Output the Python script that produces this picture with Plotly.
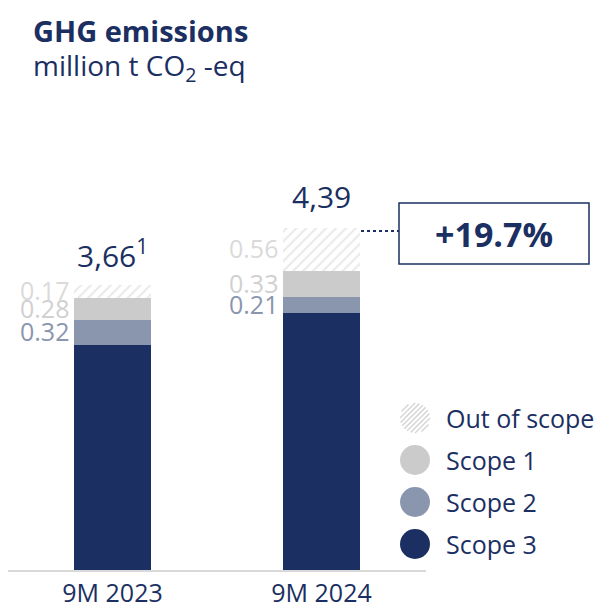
import plotly.graph_objects as go

categories = ["9M 2023", "9M 2024"]
scope3 = [2.89, 3.29]
scope2 = [0.32, 0.21]
scope1 = [0.28, 0.33]
out_of_scope = [0.17, 0.56]
totals = [3.66, 4.39]
total_labels = ["3,66<sup>1</sup>", "4,39"]
change_label = "+19.7%"
legend_names = ["Out of scope", "Scope 1", "Scope 2", "Scope 3"]

NAVY = "#1b2f62"
S2 = "#8a96ae"
S1 = "#cbcbcb"
HATCH = "#d3d3d3"
FONT = "Open Sans, Lato, sans-serif"

# page body has an 8px margin; figure is sized to fit the window
W, H = 595, 605
L, R, T, B = 0, 177, 172, 43
PW, PH = W - L - R, H - T - B
YMAX = 5.0

def px(x):  # screen pixel x -> paper
    return (x - 8 - L) / PW

def py(y):  # screen pixel y -> paper
    return (H - B - (y - 8)) / PH

xs = [0, 1]
fig = go.Figure()
fig.add_bar(x=xs, y=scope3, marker=dict(color=NAVY, line=dict(width=0)), width=0.364, name="Scope 3")
fig.add_bar(x=xs, y=scope2, marker=dict(color=S2, line=dict(width=0)), width=0.364, name="Scope 2")
fig.add_bar(x=xs, y=scope1, marker=dict(color=S1, line=dict(width=0)), width=0.364, name="Scope 1")
fig.add_bar(x=xs, y=out_of_scope, width=0.364, name="Out of scope",
            marker=dict(color="white", line=dict(width=0),
                        pattern=dict(shape="/", fgcolor=HATCH, bgcolor="white", size=7, solidity=0.3)))

ann = []
shapes = []
for i in xs:
    segs = [(scope2[i], S2, scope3[i]),
            (scope1[i], "#d0d0d0", scope3[i] + scope2[i]),
            (out_of_scope[i], "#dadada", scope3[i] + scope2[i] + scope1[i])]
    for val, col, base in segs:
        ann.append(dict(x=i, y=base + val / 2, xref="x", yref="y", text=f"{val:.2f}",
                        showarrow=False, xanchor="right", yanchor="middle", xshift=-42, yshift=1,
                        font=dict(family=FONT, size=25, color=col)))
    ann.append(dict(x=i, y=totals[i], xref="x", yref="y", text=total_labels[i], showarrow=False,
                    xanchor="center", yanchor="middle", yshift=31,
                    font=dict(family=FONT, size=30, color=NAVY)))

ann.append(dict(x=px(31), y=py(30), xref="paper", yref="paper", text="<b>GHG emissions</b>",
                showarrow=False, xanchor="left", yanchor="middle", font=dict(family=FONT, size=29, color=NAVY)))
ann.append(dict(x=px(31), y=py(67), xref="paper", yref="paper", text="million t CO<sub>2</sub> -eq",
                showarrow=False, xanchor="left", yanchor="middle", font=dict(family=FONT, size=28, color=NAVY)))

shapes.append(dict(type="rect", xref="paper", yref="paper", x0=px(399), x1=px(589), y0=py(264), y1=py(203),
                   line=dict(color=NAVY, width=1.5), fillcolor="white"))
shapes.append(dict(type="line", xref="paper", yref="paper", x0=px(361), x1=px(399), y0=py(231), y1=py(231),
                   line=dict(color=NAVY, width=2, dash="dot")))
ann.append(dict(x=px(494), y=py(234), xref="paper", yref="paper", text=f"<b>{change_label}</b>",
                showarrow=False, xanchor="center", yanchor="middle", font=dict(family=FONT, size=34, color=NAVY)))

leg_y = [418, 460, 502, 544]
leg_cols = [None, S1, S2, NAVY]
cx, r = 415, 15
for name, yy, col in zip(legend_names, leg_y, leg_cols):
    if col is None:
        for d in range(-40, 41, 5):
            hh2 = r * r - d * d / 2
            if hh2 <= 0:
                continue
            h = hh2 ** 0.5
            s = h / 2 ** 0.5
            x0, y0 = cx + d / 2 - s, yy + d / 2 + s
            x1, y1 = cx + d / 2 + s, yy + d / 2 - s
            shapes.append(dict(type="line", xref="paper", yref="paper", x0=px(x0), y0=py(y0),
                               x1=px(x1), y1=py(y1), line=dict(color="#d6d6d6", width=1.5)))
    else:
        shapes.append(dict(type="circle", xref="paper", yref="paper", x0=px(cx - r), x1=px(cx + r),
                           y0=py(yy + r), y1=py(yy - r), fillcolor=col, line=dict(width=0)))
    ann.append(dict(x=px(444), y=py(yy), xref="paper", yref="paper", text=name, showarrow=False,
                    xanchor="left", yanchor="middle", font=dict(family=FONT, size=25, color=NAVY)))

fig.update_layout(
    width=W, height=H, margin=dict(l=L, r=R, t=T, b=B),
    barmode="stack", showlegend=False,
    paper_bgcolor="white", plot_bgcolor="white",
    annotations=ann, shapes=shapes,
    xaxis=dict(range=[-0.5, 1.5], tickvals=xs, ticktext=categories, showgrid=False, zeroline=False,
               showline=True, linecolor="#d9d9d9", linewidth=2, ticks="", ticklen=0,
               tickfont=dict(family=FONT, size=25, color=NAVY)),
    yaxis=dict(range=[0, YMAX], visible=False, showgrid=False, zeroline=False),
)
fig.write_html("out.html")
